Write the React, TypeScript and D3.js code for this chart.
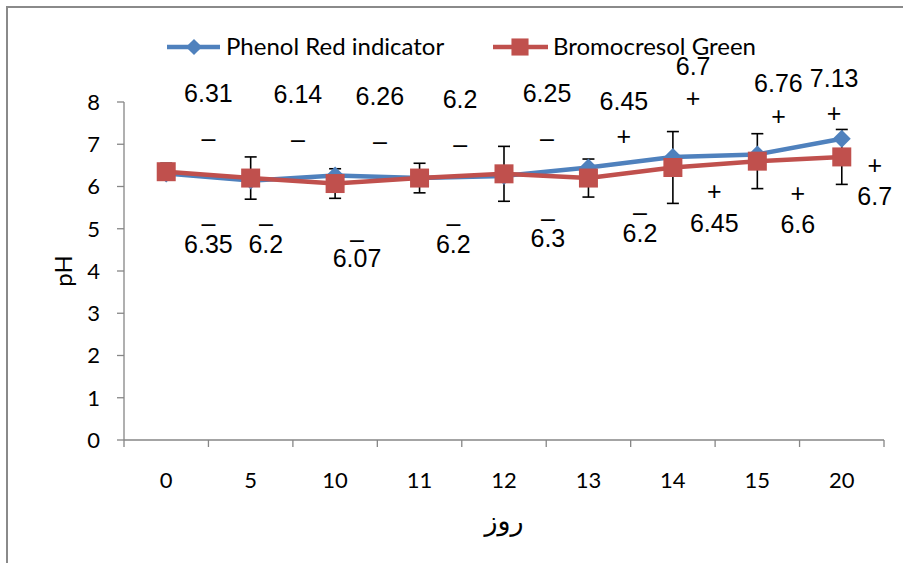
import React from "react";
import * as d3 from "d3";

// days on the x axis (category axis)
const days = ["0", "5", "10", "11", "12", "13", "14", "15", "20"];
const phenolRed = [6.31, 6.14, 6.26, 6.2, 6.25, 6.45, 6.7, 6.76, 7.13];
const bromocresol = [6.35, 6.2, 6.07, 6.2, 6.3, 6.2, 6.45, 6.6, 6.7];
const bromocresolErr = [0.2, 0.5, 0.35, 0.35, 0.65, 0.45, 0.85, 0.65, 0.65];
const yTicks = [0, 1, 2, 3, 4, 5, 6, 7, 8];
const seriesNames = ["Phenol Red indicator", "Bromocresol Green"];
const topSigns = ["–", "–", "–", "–", "–", "+", "+", "+", "+"];
const bottomSigns = ["–", "–", "–", "–", "–", "–", "+", "+", "+"];

// where the hand placed text boxes sit, in chart units
// p = position along the category axis (0..9), y = pH of the number baseline, s = pH of the sign
const topNotePos = [
  { p: 1.0, y: 7.99, s: 7.14 },
  { p: 2.06, y: 7.97, s: 7.1 },
  { p: 3.03, y: 7.92, s: 7.05 },
  { p: 3.98, y: 7.85, s: 6.98 },
  { p: 5.01, y: 7.99, s: 7.14 },
  { p: 5.92, y: 7.81, s: 7.17 },
  { p: 6.74, y: 8.63, s: 8.07 },
  { p: 7.75, y: 8.23, s: 7.64 },
  { p: 8.41, y: 8.35, s: 7.73 },
];
const bottomNotePos = [
  { p: 1.0, y: 4.42, s: 5.11 },
  { p: 1.68, y: 4.42, s: 5.11 },
  { p: 2.76, y: 4.09, s: 4.73 },
  { p: 3.9, y: 4.42, s: 5.11 },
  { p: 5.02, y: 4.56, s: 5.23 },
  { p: 6.11, y: 4.68, s: 5.39 },
  { p: 6.99, y: 4.92, s: 5.87 },
  { p: 7.98, y: 4.9, s: 5.82 },
  { p: 8.89, y: 5.56, s: 6.48 },
];

const width = 903;
const height = 563;
const plot = { left: 124, right: 884, top: 102, bottom: 440 };
const blue = "#4F81BD";
const red = "#C0504D";
const axisGray = "#868686";
const uiFont = "Lato, 'DejaVu Sans', sans-serif";
const noteFont = "'Liberation Sans', Arial, sans-serif";

export default function App() {
  const x = d3.scaleBand().domain(days).range([plot.left, plot.right]).padding(0);
  const xPos = d3.scaleLinear().domain([0, days.length]).range([plot.left, plot.right]);
  const y = d3.scaleLinear().domain([0, 8]).range([plot.bottom, plot.top]);
  const cx = (d) => x(d) + x.bandwidth() / 2;

  const line = d3
    .line()
    .x((d) => cx(d[0]))
    .y((d) => y(d[1]));

  const diamond = d3.symbol(d3.symbolSquare, 162)();
  const square = d3.symbol(d3.symbolSquare, 361)();

  const blueData = days.map((d, i) => [d, phenolRed[i]]);
  const redData = days.map((d, i) => [d, bromocresol[i]]);

  const ticksX = d3.range(days.length + 1).map((i) => xPos(i));

  return (
    <svg
      width={width}
      height={height}
      style={{ position: "absolute", left: 0, top: 0, background: "#fff" }}
    >
      <path d={`M7,${height} V7 H${width}`} fill="none" stroke="#8a8a8a" strokeWidth={2} />

      {/* legend */}
      <g fontFamily={uiFont} fontSize={24}>
        <line x1={167} x2={220} y1={47} y2={47} stroke={blue} strokeWidth={4.5} />
        <path d={diamond} transform="translate(194,47) rotate(45) scale(0.9)" fill={blue} />
        <text x={226} y={47} dy="0.35em">{seriesNames[0]}</text>
        <line x1={493} x2={548} y1={47} y2={47} stroke={red} strokeWidth={4.5} />
        <path d={square} transform="translate(520,47) scale(0.9)" fill={red} />
        <text x={553} y={47} dy="0.35em">{seriesNames[1]}</text>
      </g>

      {/* y axis */}
      <g fontFamily={uiFont} fontSize={22}>
        <line x1={plot.left} x2={plot.left} y1={y(8)} y2={y(0)} stroke={axisGray} strokeWidth={1.3} />
        {yTicks.map((t) => (
          <g key={t}>
            <line x1={plot.left - 7} x2={plot.left} y1={y(t)} y2={y(t)} stroke={axisGray} strokeWidth={1.3} />
            <text x={100} y={y(t)} dy="0.36em" textAnchor="end">{t}</text>
          </g>
        ))}
        <text
          transform={`translate(64,${(y(8) + y(0)) / 2}) rotate(-90)`}
          textAnchor="middle"
          dy="0.35em"
          fontSize={24}
        >
          pH
        </text>
      </g>

      {/* x axis */}
      <g fontFamily={uiFont} fontSize={22}>
        <line x1={plot.left} x2={plot.right} y1={y(0)} y2={y(0)} stroke={axisGray} strokeWidth={1.3} />
        {ticksX.map((tx, i) => (
          <line key={i} x1={tx} x2={tx} y1={y(0)} y2={y(0) + 7} stroke={axisGray} strokeWidth={1.3} />
        ))}
        {days.map((d) => (
          <text key={d} x={cx(d)} y={480} dy="0.36em" textAnchor="middle">{d}</text>
        ))}
        <text x={(plot.left + plot.right) / 2} y={521} dy="0.35em" textAnchor="middle" fontSize={27}>
          روز
        </text>
      </g>

      {/* error bars on Bromocresol Green */}
      <g stroke="#000" strokeWidth={1.6}>
        {days.map((d, i) => {
          const hi = y(bromocresol[i] + bromocresolErr[i]);
          const lo = y(bromocresol[i] - bromocresolErr[i]);
          const c = cx(d);
          return (
            <g key={d}>
              <line x1={c} x2={c} y1={hi} y2={lo} />
              <line x1={c - 6} x2={c + 6} y1={hi} y2={hi} />
              <line x1={c - 6} x2={c + 6} y1={lo} y2={lo} />
            </g>
          );
        })}
      </g>

      {/* series */}
      <path d={line(blueData)} fill="none" stroke={blue} strokeWidth={4.5} strokeLinejoin="round" />
      {blueData.map((d) => (
        <path key={d[0]} d={diamond} transform={`translate(${cx(d[0])},${y(d[1])}) rotate(45)`} fill={blue} />
      ))}
      <path d={line(redData)} fill="none" stroke={red} strokeWidth={4.5} strokeLinejoin="round" />
      {redData.map((d) => (
        <path key={d[0]} d={square} transform={`translate(${cx(d[0])},${y(d[1])})`} fill={red} />
      ))}

      {/* text box notes */}
      <g fontFamily={noteFont} fontSize={25} textAnchor="middle" fill="#000">
        {phenolRed.map((v, i) => (
          <g key={"t" + i}>
            <text x={xPos(topNotePos[i].p)} y={y(topNotePos[i].y)}>{String(v)}</text>
            <text x={xPos(topNotePos[i].p)} y={y(topNotePos[i].s)} dy="0.33em">{topSigns[i]}</text>
          </g>
        ))}
        {bromocresol.map((v, i) => (
          <g key={"b" + i}>
            <text x={xPos(bottomNotePos[i].p)} y={y(bottomNotePos[i].y)}>{String(v)}</text>
            <text x={xPos(bottomNotePos[i].p)} y={y(bottomNotePos[i].s)} dy="0.33em">{bottomSigns[i]}</text>
          </g>
        ))}
      </g>
    </svg>
  );
}
